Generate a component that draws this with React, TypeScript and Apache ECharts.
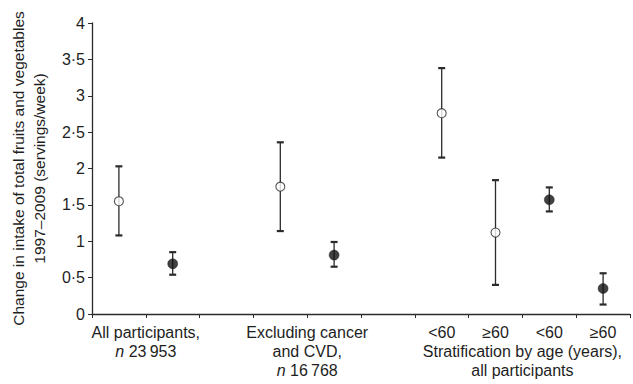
import React, { useEffect, useRef } from "react";
import * as echarts from "echarts";

const tickLabels = ["", "", "", "", "", "", "<60", "≥60", "<60", "≥60"];
const groupLabels: Record<number, string> = {
  1: "All participants,\n{i|n} 23\u2009953",
  4: "Excluding cancer\nand CVD,\n{i|n} 16\u2009768",
  8: "\nStratification by age (years),\nall participants",
};
const meanValues = [1.55, 0.69, null, 1.75, 0.81, null, 2.76, 1.12, 1.57, 0.35];
const lowerValues = [1.08, 0.54, null, 1.14, 0.65, null, 2.15, 0.4, 1.41, 0.13];
const upperValues = [2.03, 0.85, null, 2.36, 0.99, null, 3.38, 1.84, 1.74, 0.56];
const markerKinds = ["open", "filled", "", "open", "filled", "", "open", "open", "filled", "filled"];
const yTicks = [0, 0.5, 1, 1.5, 2, 2.5, 3, 3.5, 4];

const FONT = "Liberation Sans, Arial, sans-serif";
const INK = "#2b2b2b";
const TXT = "#1e1e1e";

export default function App() {
  const ref = useRef<HTMLDivElement>(null);
  useEffect(() => {
    if (!ref.current) return;
    const chart = echarts.init(ref.current, undefined, { renderer: "svg" });
    const errData = meanValues
      .map((m, i) => (m === null ? null : [i, lowerValues[i], upperValues[i]]))
      .filter((d) => d !== null);
    const openData = meanValues.map((m, i) => (markerKinds[i] === "open" ? m : "-"));
    const filledData = meanValues.map((m, i) => (markerKinds[i] === "filled" ? m : "-"));
    chart.setOption({
      animation: false,
      grid: { left: 92, right: 0, top: 23, bottom: 70, containLabel: false },
      textStyle: { fontFamily: FONT },
      xAxis: [
        {
          type: "category",
          data: tickLabels,
          boundaryGap: true,
          axisLine: { lineStyle: { color: INK, width: 1.3 } },
          axisTick: { show: true, alignWithLabel: false, length: 4, lineStyle: { color: INK }, interval: 0 },
          axisLabel: { color: TXT, fontSize: 16, fontFamily: FONT, interval: 0, margin: 9, lineHeight: 19 },
          splitLine: { show: false },
        },
        {
          type: "value",
          min: 0,
          max: 10,
          interval: 1,
          position: "bottom",
          axisLine: { show: false },
          axisTick: { show: false },
          splitLine: { show: false },
          axisLabel: {
            color: TXT,
            fontSize: 16,
            fontFamily: FONT,
            margin: 9,
            lineHeight: 19,
            formatter: (v: number) => groupLabels[Math.round(v)] ?? "",
            rich: { i: { fontStyle: "italic", fontSize: 16, fontFamily: FONT, color: TXT, lineHeight: 19 } },
          },
        },
      ],
      yAxis: {
        type: "value",
        min: 0,
        max: 4,
        interval: 0.5,
        name: "Change in intake of total fruits and vegetables\n1997–2009 (servings/week)",
        nameLocation: "middle",
        nameRotate: 90,
        nameGap: 42,
        nameTextStyle: { color: TXT, fontSize: 15.5, fontFamily: FONT, lineHeight: 21 },
        axisLine: { show: true, lineStyle: { color: INK, width: 1.3 } },
        axisTick: { show: true, length: 4, lineStyle: { color: INK } },
        axisLabel: {
          color: TXT,
          fontSize: 16,
          fontFamily: FONT,
          margin: 7,
          formatter: (v: number) => (yTicks.includes(v) ? String(v).replace(".", "·") : ""),
        },
        splitLine: { show: false },
      },
      series: [
        {
          type: "custom",
          xAxisIndex: 0,
          data: errData,
          renderItem: (params: any, api: any) => {
            const x = api.value(0);
            const lo = api.coord([x, api.value(1)]);
            const hi = api.coord([x, api.value(2)]);
            const half = 3.5;
            const style = { stroke: INK, lineWidth: 1.3 };
            return {
              type: "group",
              children: [
                { type: "line", shape: { x1: lo[0], y1: lo[1], x2: hi[0], y2: hi[1] }, style },
                { type: "line", shape: { x1: hi[0] - half, y1: hi[1], x2: hi[0] + half, y2: hi[1] }, style: { stroke: INK, lineWidth: 2.2 } },
                { type: "line", shape: { x1: lo[0] - half, y1: lo[1], x2: lo[0] + half, y2: lo[1] }, style: { stroke: INK, lineWidth: 2.2 } },
              ],
            };
          },
          z: 2,
        },
        {
          type: "scatter",
          xAxisIndex: 0,
          data: openData,
          symbol: "circle",
          symbolSize: 9,
          itemStyle: { color: "#fff", borderColor: INK, borderWidth: 1.1 },
          z: 3,
        },
        {
          type: "scatter",
          xAxisIndex: 0,
          data: filledData,
          symbol: "circle",
          symbolSize: 10,
          itemStyle: { color: "#111", borderColor: "#111", borderWidth: 0.5 },
          z: 3,
        },
      ],
    });
    return () => chart.dispose();
  }, []);
  return <div ref={ref} style={{ position: "fixed", left: 0, top: 0, width: 633, height: 384, background: "#fff" }} />;
}
